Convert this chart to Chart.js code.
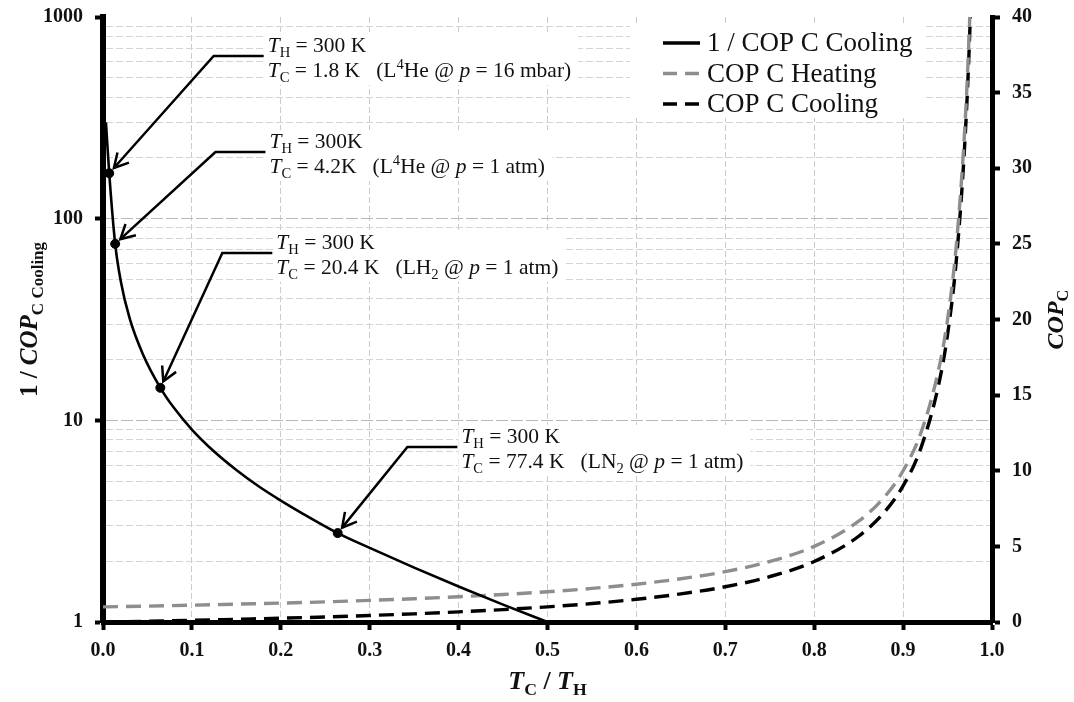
<!DOCTYPE html>
<html>
<head>
<meta charset="utf-8">
<script src="https://cdn.jsdelivr.net/npm/chart.js@4.4.0/dist/chart.umd.min.js"></script>
<style>
  body { margin: 0; background: #fff; }
  #wrap { width: 1074px; height: 702px; }
</style>
</head>
<body>
<div id="wrap"><canvas id="chartCOP" width="1074" height="702"></canvas></div>
<script>
//* DATOS
const ratioInv = [0.0033, 0.007, 0.0137, 0.02, 0.03, 0.045, 0.0645, 0.08, 0.1, 0.125, 0.15, 0.175, 0.2, 0.225, 0.264, 0.3, 0.35, 0.4, 0.45, 0.5];
const invCopCooling = [300, 168, 75, 49, 32, 21.2, 14.5, 11.5, 9.0, 7.0, 5.67, 4.71, 4.0, 3.44, 2.76, 2.33, 1.86, 1.5, 1.22, 1.0];

const ratioCop = [0, 0.05, 0.1, 0.15, 0.2, 0.25, 0.3, 0.35, 0.4, 0.45, 0.5, 0.55, 0.6, 0.65, 0.7, 0.75, 0.8, 0.85, 0.88, 0.9, 0.92, 0.94, 0.95, 0.96, 0.97, 0.975, 0.98];
const copHeating = [1.0, 1.05, 1.11, 1.18, 1.25, 1.33, 1.43, 1.54, 1.67, 1.82, 2.0, 2.22, 2.5, 2.86, 3.33, 4.0, 5.0, 6.67, 8.33, 10.0, 12.5, 16.7, 20.0, 25.0, 33.3, 40.0, 50.0];
const copCooling = [0, 0.05, 0.11, 0.18, 0.25, 0.33, 0.43, 0.54, 0.67, 0.82, 1.0, 1.22, 1.5, 1.86, 2.33, 3.0, 4.0, 5.67, 7.33, 9.0, 11.5, 15.7, 19.0, 24.0, 32.3, 39.0, 49.0];

const markedRatio = [0.007, 0.0137, 0.0645, 0.264];
const markedInvCop = [168, 75, 14.5, 2.76];

const xTickValues = [0, 0.1, 0.2, 0.3, 0.4, 0.5, 0.6, 0.7, 0.8, 0.9, 1.0];
const leftTickValues = [1, 10, 100, 1000];
const rightTickValues = [0, 5, 10, 15, 20, 25, 30, 35, 40];

const seriesNames = ['1 / COP C Cooling', 'COP C Heating', 'COP C Cooling'];

// anotaciones: codo de la flecha en unidades de datos + punto marcado
const notes = [
    { ex: 0.1245, ey: 641, point: 0, lines: [
        [['T', 'i'], ['H', '_'], [' = 300 K', '']],
        [['T', 'i'], ['C', '_'], [' = 1.8 K   (L', ''], ['4', '^'], ['He @ ', ''], ['p', 'i'], [' = 16 mbar)', '']]
    ]},
    { ex: 0.1265, ey: 214, point: 1, lines: [
        [['T', 'i'], ['H', '_'], [' = 300K', '']],
        [['T', 'i'], ['C', '_'], [' = 4.2K   (L', ''], ['4', '^'], ['He @ ', ''], ['p', 'i'], [' = 1 atm)', '']]
    ]},
    { ex: 0.1342, ey: 67.6, point: 2, lines: [
        [['T', 'i'], ['H', '_'], [' = 300 K', '']],
        [['T', 'i'], ['C', '_'], [' = 20.4 K   (LH', ''], ['2', '_'], [' @ ', ''], ['p', 'i'], [' = 1 atm)', '']]
    ]},
    { ex: 0.3424, ey: 7.38, point: 3, lines: [
        [['T', 'i'], ['H', '_'], [' = 300 K', '']],
        [['T', 'i'], ['C', '_'], [' = 77.4 K   (LN', ''], ['2', '_'], [' @ ', ''], ['p', 'i'], [' = 1 atm)', '']]
    ]}
];

const SERIF = '"Liberation Serif", "Times New Roman", serif';
const GRAY = '#8e8e8e';
const NOTE_SIZE = 21.5;

function pts(xs, ys) {
    return xs.map((x, i) => ({ x: x, y: ys[i] }));
}

// texto con cursiva / subindice / superindice
function rich(ctx, segs, x, y, size, bold, measureOnly) {
    let cx = x;
    segs.forEach(([t, k]) => {
        const small = k.includes('_') || k.includes('^');
        const fs = small ? size * 0.68 : size;
        ctx.font = (k.includes('i') ? 'italic ' : '') + (bold ? 'bold ' : '') + fs + 'px ' + SERIF;
        const dy = k.includes('_') ? size * 0.22 : (k.includes('^') ? -size * 0.38 : 0);
        if (!measureOnly) ctx.fillText(t, cx, y + dy);
        cx += ctx.measureText(t).width;
    });
    return cx - x;
}

// sin relleno extra de las etiquetas, el area del grafico la fija layout.padding
function noPad(s) {
    s.paddingTop = 0;
    s.paddingBottom = 0;
    s.paddingLeft = 0;
    s.paddingRight = 0;
}

const decor = {
    id: 'decor',
    beforeDatasetsDraw(chart) {
        const ctx = chart.ctx;
        const sx = chart.scales.x, sy = chart.scales.y;
        ctx.save();
        // cajas y textos de las anotaciones
        notes.forEach(n => {
            const ex = sx.getPixelForValue(n.ex), ey = sy.getPixelForValue(n.ey);
            const tx = ex + 54;
            const b1 = ey - 4, b2 = ey + 21;
            const w = Math.max(...n.lines.map(l => rich(ctx, l, 0, 0, NOTE_SIZE, false, true)));
            ctx.fillStyle = '#fff';
            ctx.fillRect(tx - 3, b1 - 18, w + 10, b2 - b1 + 26);
            ctx.fillStyle = '#111';
            ctx.textBaseline = 'alphabetic';
            ctx.textAlign = 'left';
            rich(ctx, n.lines[0], tx, b1, NOTE_SIZE, false);
            rich(ctx, n.lines[1], tx, b2, NOTE_SIZE, false);
        });
        // leyenda
        ctx.fillStyle = '#fff';
        ctx.fillRect(630, 24, 295, 94);
        const styles = [
            { color: '#000', dash: [] },
            { color: GRAY, dash: [14, 8] },
            { color: '#000', dash: [14, 8] }
        ];
        seriesNames.forEach((name, i) => {
            const y = 43 + i * 30.5;
            ctx.beginPath();
            ctx.setLineDash(styles[i].dash);
            ctx.strokeStyle = styles[i].color;
            ctx.lineWidth = 3.5;
            ctx.moveTo(663, y);
            ctx.lineTo(700, y);
            ctx.stroke();
            ctx.setLineDash([]);
            ctx.fillStyle = '#111';
            ctx.font = '27px ' + SERIF;
            ctx.textBaseline = 'middle';
            ctx.fillText(name, 707, y + 1);
        });
        ctx.restore();
    },
    afterDatasetsDraw(chart) {
        const ctx = chart.ctx;
        const sx = chart.scales.x, sy = chart.scales.y;
        ctx.save();
        ctx.strokeStyle = '#000';
        ctx.lineWidth = 2.5;
        ctx.lineJoin = 'miter';
        notes.forEach(n => {
            const ex = sx.getPixelForValue(n.ex), ey = sy.getPixelForValue(n.ey);
            const px = sx.getPixelForValue(markedRatio[n.point]);
            const py = sy.getPixelForValue(markedInvCop[n.point]);
            const dx = ex - px, dy = ey - py;
            const len = Math.hypot(dx, dy);
            const ux = dx / len, uy = dy / len;
            const tipX = px + ux * 7, tipY = py + uy * 7;
            ctx.beginPath();
            ctx.moveTo(ex + 50, ey);
            ctx.lineTo(ex, ey);
            ctx.lineTo(tipX, tipY);
            ctx.stroke();
            const ang = Math.atan2(uy, ux);
            const hl = 16, ha = 0.5;
            ctx.beginPath();
            ctx.moveTo(tipX + hl * Math.cos(ang + ha), tipY + hl * Math.sin(ang + ha));
            ctx.lineTo(tipX, tipY);
            ctx.lineTo(tipX + hl * Math.cos(ang - ha), tipY + hl * Math.sin(ang - ha));
            ctx.stroke();
        });
        ctx.restore();
    },
    afterDraw(chart) {
        const ctx = chart.ctx;
        const area = chart.chartArea;
        const midY = (area.top + area.bottom) / 2;
        ctx.save();
        ctx.fillStyle = '#111';
        ctx.textBaseline = 'alphabetic';
        ctx.textAlign = 'left';
        // titulo eje x
        const xs = [['T', 'i'], ['C', '_'], [' / ', ''], ['T', 'i'], ['H', '_']];
        const wx = rich(ctx, xs, 0, 0, 26, true, true);
        rich(ctx, xs, (area.left + area.right) / 2 - wx / 2, 689, 26, true);
        // titulo eje izquierdo
        const ls = [['1 / ', ''], ['COP', 'i'], ['C Cooling', '_']];
        const wl = rich(ctx, ls, 0, 0, 25, true, true);
        ctx.save();
        ctx.translate(37, midY);
        ctx.rotate(-Math.PI / 2);
        rich(ctx, ls, -wl / 2, 0, 25, true);
        ctx.restore();
        // titulo eje derecho
        const rs = [['COP', 'i'], ['C', '_']];
        const wr = rich(ctx, rs, 0, 0, 24, true, true);
        ctx.save();
        ctx.translate(1063, midY);
        ctx.rotate(-Math.PI / 2);
        rich(ctx, rs, -wr / 2, 0, 24, true);
        ctx.restore();
        ctx.restore();
    }
};

// lineas menores del eje log
let logTicks = [];
leftTickValues.forEach((d, i) => {
    logTicks.push({ value: d, major: true });
    if (i < leftTickValues.length - 1) {
        for (let m = 2; m <= 9; m++) logTicks.push({ value: d * m, major: false });
    }
});

const tickFont = { family: SERIF, size: 20, weight: 'bold' };

new Chart(document.getElementById('chartCOP'), {
    type: 'scatter',
    data: {
        datasets: [
            {
                label: seriesNames[0],
                data: pts(ratioInv, invCopCooling),
                yAxisID: 'y',
                showLine: true,
                borderColor: '#000',
                borderWidth: 2.6,
                pointRadius: 0,
                cubicInterpolationMode: 'monotone'
            },
            {
                label: 'marked',
                data: pts(markedRatio, markedInvCop),
                yAxisID: 'y',
                showLine: false,
                pointRadius: 4.5,
                pointBackgroundColor: '#000',
                pointBorderColor: '#000'
            },
            {
                label: seriesNames[1],
                data: pts(ratioCop, copHeating),
                yAxisID: 'y2',
                showLine: true,
                borderColor: GRAY,
                borderWidth: 3.4,
                borderDash: [15, 8],
                pointRadius: 0,
                cubicInterpolationMode: 'monotone'
            },
            {
                label: seriesNames[2],
                data: pts(ratioCop, copCooling),
                yAxisID: 'y2',
                showLine: true,
                borderColor: '#000',
                borderWidth: 3.4,
                borderDash: [15, 8],
                pointRadius: 0,
                cubicInterpolationMode: 'monotone'
            }
        ]
    },
    options: {
        responsive: false,
        animation: false,
        layout: { padding: { top: 17, left: 0, right: 0, bottom: 0 } },
        plugins: { legend: { display: false }, tooltip: { enabled: false } },
        scales: {
            x: {
                type: 'linear',
                min: 0,
                max: 1,
                afterBuildTicks: s => { s.ticks = xTickValues.map(v => ({ value: v })); },
                afterFit: s => { s.height = 80; noPad(s); },
                ticks: {
                    font: tickFont,
                    color: '#111',
                    padding: 9,
                    autoSkip: false,
                    maxRotation: 0,
                    callback: v => v.toFixed(1)
                },
                grid: {
                    color: c => (c.tick && (c.tick.value === 0 || c.tick.value === 1)) ? 'rgba(0,0,0,0)' : '#cbcbcb',
                    lineWidth: 1,
                    tickColor: '#000',
                    tickWidth: 4,
                    tickLength: 8
                },
                border: { color: '#000', width: 5, dash: [6, 3] }
            },
            y: {
                type: 'logarithmic',
                position: 'left',
                min: 1,
                max: 1000,
                afterBuildTicks: s => { s.ticks = logTicks.map(t => ({ value: t.value, major: t.major })); },
                afterFit: s => { s.width = 103; noPad(s); },
                ticks: {
                    font: tickFont,
                    color: '#111',
                    padding: 12,
                    autoSkip: false,
                    callback: (v, i, ticks) => ticks[i].major ? String(v) : ''
                },
                grid: {
                    color: c => {
                        if (!c.tick || c.tick.value === 1 || c.tick.value === 1000) return 'rgba(0,0,0,0)';
                        return c.tick.major ? '#b8b8b8' : '#d4d4d4';
                    },
                    lineWidth: 1,
                    tickColor: c => (c.tick && c.tick.major) ? '#000' : 'rgba(0,0,0,0)',
                    tickWidth: 4,
                    tickLength: 8
                },
                border: {
                    color: '#000',
                    width: 6,
                    dash: c => (c.tick && c.tick.major) ? [12, 3] : [7, 3]
                }
            },
            y2: {
                type: 'linear',
                position: 'right',
                min: 0,
                max: 40,
                afterBuildTicks: s => { s.ticks = rightTickValues.map(v => ({ value: v })); },
                afterFit: s => { s.width = 82; noPad(s); },
                ticks: {
                    font: tickFont,
                    color: '#111',
                    padding: 12,
                    autoSkip: false
                },
                grid: {
                    drawOnChartArea: false,
                    tickColor: '#000',
                    tickWidth: 4,
                    tickLength: 8
                },
                border: { color: '#000', width: 5 }
            }
        }
    },
    plugins: [decor]
});
</script>
</body>
</html>
